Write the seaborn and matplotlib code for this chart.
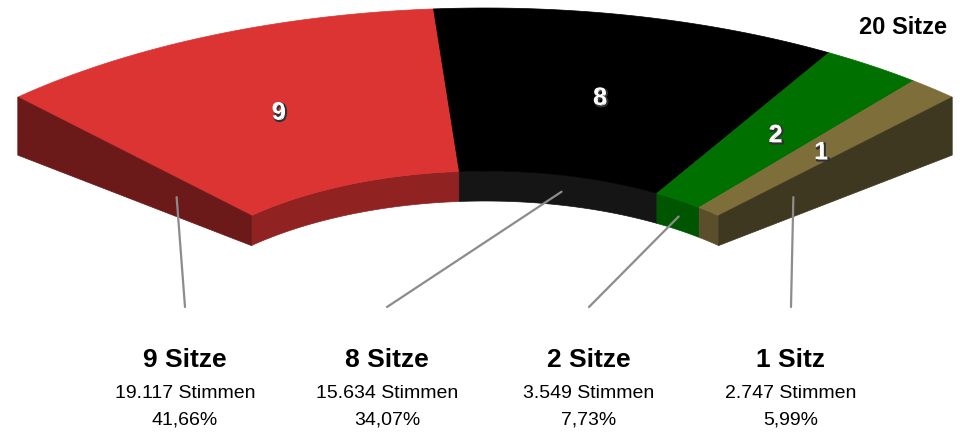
import numpy as np
import seaborn as sns
import matplotlib.pyplot as plt
from matplotlib.patches import Polygon
import matplotlib.patheffects as pe

# Sitzverteilung (20 Sitze)
seats = [9, 8, 2, 1]
votes = [19117, 15634, 3549, 2747]
percent = [41.66, 34.07, 7.73, 5.99]
total_seats = 20

# Farben: Oberseite, Innenseite, Stirnseite
top_colors = ["#dc3333", "#000000", "#007000", "#7e6e3a"]
inner_colors = ["#902222", "#151515", "#005600", "#5b4f2b"]
end_colors = ["#6c1919", "#0a0a0a", "#004000", "#3f3820"]

sns.set_theme(style="white")
plt.rcParams["font.family"] = ["Liberation Sans", "DejaVu Sans"]
plt.rcParams["text.color"] = "black"

# Geometrie des perspektivischen Halbrings (Pixel)
cx, cy = 485, 334
rx, ry = 680, 326
inner = 0.5
th_left, th_right = np.radians(133.4), np.radians(46.6)


def pt(rho, th, depth=0.0):
    t = 56 * rho + 2
    return (cx + rho * rx * np.cos(th), cy - rho * ry * np.sin(th) + depth * t)


fig = plt.figure(figsize=(9.62, 4.37), dpi=100)
ax = fig.add_axes([0, 0, 1, 1])
ax.set_xlim(0, 962)
ax.set_ylim(437, 0)
ax.axis("off")

cum = np.concatenate([[0], np.cumsum(seats)]) / total_seats
angles = th_left + cum * (th_right - th_left)

for i in range(len(seats)):
    a, b = angles[i], angles[i + 1]
    ths = np.linspace(a, b, 60)
    # Innenseite
    face = [pt(inner, t) for t in ths] + [pt(inner, t, 1) for t in ths[::-1]]
    ax.add_patch(Polygon(face, closed=True, fc=inner_colors[i], ec=inner_colors[i], lw=0.5))
    # Oberseite
    top = [pt(1, t) for t in ths] + [pt(inner, t) for t in ths[::-1]]
    ax.add_patch(Polygon(top, closed=True, fc=top_colors[i], ec=top_colors[i], lw=0.5))
    # Zahl der Sitze
    mid = (a + b) / 2
    x, y = pt(0.75, mid)
    ax.text(x, y + 2, str(seats[i]), color="white", fontsize=18, fontweight="bold",
            ha="center", va="center",
            path_effects=[pe.Stroke(linewidth=1.5, foreground="#303030", offset=(1, -1)),
                          pe.Normal()])

# Stirnseiten links und rechts
for th, col in [(th_left, end_colors[0]), (th_right, end_colors[-1])]:
    quad = [pt(1, th), pt(inner, th), pt(inner, th, 1), pt(1, th, 1)]
    ax.add_patch(Polygon(quad, closed=True, fc=col, ec=col, lw=0.5))

ax.text(903, 27, f"{total_seats} Sitze", fontsize=17, fontweight="bold",
        ha="center", va="center")

# Beschriftungen unten mit Hinweislinien
col_x = [185 + 202 * i for i in range(len(seats))]
for i in range(len(seats)):
    if i == 0:
        start = pt(0.66, th_left, 0.5)
    elif i == len(seats) - 1:
        start = pt(0.66, th_right, 0.5)
    else:
        start = pt(inner, (angles[i] + angles[i + 1]) / 2, 0.55)
    ax.plot([start[0], col_x[i]], [start[1], 307], color="#8c8c8c", lw=1.6)

    word = "Sitz" if seats[i] == 1 else "Sitze"
    ax.text(col_x[i], 360, f"{seats[i]} {word}", fontsize=19, fontweight="bold",
            ha="center", va="center")
    v = f"{votes[i]:,}".replace(",", ".")
    ax.text(col_x[i], 394, f"{v} Stimmen", fontsize=14, ha="center", va="center")
    p = f"{percent[i]:.2f}".replace(".", ",")
    ax.text(col_x[i], 420, f"{p}%", fontsize=14, ha="center", va="center")

fig.savefig("out.png", dpi=100)
